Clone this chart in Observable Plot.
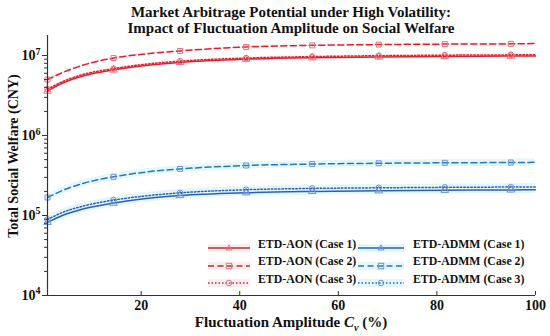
<!DOCTYPE html>
<html><head><meta charset="utf-8">
<script src="https://cdn.jsdelivr.net/npm/d3@7"></script>
<script src="https://cdn.jsdelivr.net/npm/@observablehq/plot@0.6"></script>
<style>
body{margin:0;background:#fff;}
#wrap{position:relative;width:550px;height:336px;font-family:"Liberation Serif","Times New Roman",serif;font-weight:bold;color:#111;overflow:hidden;}
.title{position:absolute;left:0;width:582px;text-align:center;font-size:15px;line-height:16px;}
.xlab{position:absolute;left:0;width:582px;text-align:center;font-size:15px;line-height:15px;top:315px;}
.leg{position:absolute;font-size:11.8px;line-height:14px;white-space:nowrap;}
.sw{position:absolute;}
</style></head><body><div id="wrap"></div>
<script>
// ---- data ----
const cv = [1, 4, 8, 14.4, 21, 27.9, 41.3, 54.7, 68.2, 81.6, 95, 100];
const markerCv = [1, 14.4, 27.9, 41.3, 54.7, 68.2, 81.6, 95];
const aonCase1 = [3.6e6, 4.5e6, 5.5e6, 6.6e6, 7.5e6, 8.2e6, 9.0e6, 9.4e6, 9.6e6, 9.75e6, 9.85e6, 9.9e6];
const aonCase2 = [5.0e6, 6.1e6, 7.5e6, 9.3e6, 1.05e7, 1.14e7, 1.28e7, 1.34e7, 1.37e7, 1.39e7, 1.40e7, 1.41e7];
const aonCase3 = [3.8e6, 4.7e6, 5.75e6, 6.85e6, 7.8e6, 8.5e6, 9.3e6, 9.7e6, 9.95e6, 1.01e7, 1.02e7, 1.025e7];
const admmCase1 = [8.2e4, 1.0e5, 1.2e5, 1.43e5, 1.63e5, 1.78e5, 1.93e5, 2.0e5, 2.04e5, 2.07e5, 2.09e5, 2.1e5];
const admmCase2 = [1.68e5, 2.05e5, 2.5e5, 3.05e5, 3.5e5, 3.82e5, 4.22e5, 4.4e5, 4.5e5, 4.56e5, 4.6e5, 4.62e5];
const admmCase3 = [8.9e4, 1.09e5, 1.3e5, 1.56e5, 1.76e5, 1.92e5, 2.1e5, 2.18e5, 2.22e5, 2.25e5, 2.27e5, 2.28e5];
const seriesNames = ["ETD-AON (Case 1)", "ETD-AON (Case 2)", "ETD-AON (Case 3)", "ETD-ADMM (Case 1)", "ETD-ADMM (Case 2)", "ETD-ADMM (Case 3)"];
const xTicks = [20, 40, 60, 80, 100];
const yTicks = [1e4, 1e5, 1e6, 1e7];

// ---- styles ----
const RED = "#e0202c", RED_M = "#e8707c", BLUE = "#2f5fb0", BLUE2 = "#2a78b0", BLUE_M = "#6f93d2";
const styles = [
  {stroke: RED, mk: RED_M, dash: null, symbol: "triangle", band: "#fdecef", bw: 0.03, leg: "#a03a30"},
  {stroke: RED, mk: RED_M, dash: "6,3.5", symbol: "square", band: "#fdecef", bw: 0.03, leg: "#a03a30"},
  {stroke: RED, mk: RED_M, dash: "1.5,2", symbol: "circle", band: "#fdecef", bw: 0.03, leg: "#a03a30"},
  {stroke: BLUE, mk: BLUE_M, dash: null, symbol: "triangle", band: "#e3f7fa", bw: 0.1, leg: BLUE},
  {stroke: BLUE2, mk: BLUE_M, dash: "6,3.5", symbol: "square", band: "#e3f7fa", bw: 0.1, leg: BLUE2},
  {stroke: BLUE, mk: BLUE_M, dash: "1.5,2", symbol: "circle", band: "#e3f7fa", bw: 0.1, leg: BLUE}
];
const allValues = [aonCase1, aonCase2, aonCase3, admmCase1, admmCase2, admmCase3];

const marks = [];
const order = [3, 5, 4, 0, 2, 1];
order.forEach(i => {
  const st = styles[i];
  const rows = cv.map((x, j) => ({x, y: allValues[i][j]}));
  marks.push(Plot.areaY(rows, {x: "x", y1: d => d.y * (1 - st.bw), y2: d => d.y * (1 + st.bw), fill: st.band, curve: "monotone-x"}));
});
order.forEach(i => {
  const st = styles[i];
  const rows = cv.map((x, j) => ({x, y: allValues[i][j]}));
  const mrows = rows.filter(d => markerCv.includes(d.x));
  marks.push(Plot.line(rows, {x: "x", y: "y", stroke: st.stroke, strokeWidth: 1.5, strokeDasharray: st.dash, curve: "monotone-x"}));
  marks.push(Plot.dot(mrows, {x: "x", y: "y", symbol: () => st.symbol, r: 2.8, stroke: st.mk, strokeWidth: 1, fill: "none"}));
});

const minor = [];
for (let e = 4; e <= 7; e++) for (let k = 2; k <= 9; k++) { const v = k * Math.pow(10, e); if (v < 1.78e7) minor.push(v); }

marks.push(
  Plot.ruleY([1e4], {stroke: "#333", strokeWidth: 1.2}),
  Plot.ruleX([1], {stroke: "#333", strokeWidth: 1.2}),
  Plot.axisY(minor, {anchor: "left", tickSize: 3, tickFormat: () => "", label: null, stroke: "#333"}),
  Plot.axisY(yTicks, {anchor: "left", tickSize: 5, tickPadding: 2, label: null, stroke: "#333", fill: "#111", tickFormat: d => "10^" + Math.round(Math.log10(d))}),
  Plot.axisX(xTicks, {anchor: "bottom", tickSize: 4, dy: -4, tickFormat: () => "", label: null, stroke: "#333"}),
  Plot.axisX(xTicks, {anchor: "bottom", tickSize: 0, tickPadding: 5, label: null, fill: "#111"})
);

const chart = Plot.plot({
  width: 550, height: 336,
  marginTop: 35, marginBottom: 41, marginLeft: 47, marginRight: 15,
  x: {domain: [1, 100]},
  y: {type: "log", domain: [1e4, 1.78e7]},
  style: {fontFamily: '"Liberation Serif","Times New Roman",serif', fontWeight: "bold", fontSize: "14px", background: "white", color: "#111"},
  marks
});
const wrap = document.getElementById("wrap");
chart.style.position = "absolute"; chart.style.left = "0"; chart.style.top = "0";
wrap.appendChild(chart);

d3.select(chart).selectAll('g[aria-label="y-axis tick label"] text').each(function() {
  const t = d3.select(this); const s = t.text();
  if (!s.includes("^")) { t.remove(); return; }
  const exp = s.split("^")[1];
  t.text(""); t.append("tspan").text("10");
  t.append("tspan").attr("dy", "-0.55em").attr("font-size", "10px").text(exp);
});
d3.select(chart).selectAll('g[aria-label="x-axis tick label"] text').each(function() {
  if (d3.select(this).text() === "") d3.select(this).remove();
});
d3.select(chart).append("text").attr("transform", "translate(15,156) rotate(-90)")
  .attr("text-anchor", "middle").attr("dominant-baseline", "middle")
  .attr("font-size", "14px").attr("fill", "#111").text("Total Social Welfare (CNY)");

const t1 = document.createElement("div"); t1.className = "title"; t1.style.top = "4px";
t1.innerHTML = "Market Arbitrage Potential under High Volatility:<br>Impact of Fluctuation Amplitude on Social Welfare";
wrap.appendChild(t1);
const xl = document.createElement("div"); xl.className = "xlab";
xl.innerHTML = 'Fluctuation Amplitude <i>C<sub style="font-size:10px;line-height:0">v</sub></i> (%)';
wrap.appendChild(xl);

const legPos = [[208, 258, 244], [208, 258, 261.5], [208, 258, 279], [358, 413, 244], [358, 413, 261.5], [358, 413, 279]];
seriesNames.forEach((name, i) => {
  const st = styles[i]; const [sx, tx, y] = legPos[i];
  const w = i < 3 ? 42 : 46;
  const sym = st.symbol === "triangle" ? `<path d="M${w/2},${5-3.2} L${w/2+3},${5+2} L${w/2-3},${5+2} Z" fill="none" stroke="${st.mk}"/>`
    : st.symbol === "square" ? `<rect x="${w/2-2.7}" y="2.3" width="5.4" height="5.4" fill="none" stroke="${st.mk}"/>`
    : `<circle cx="${w/2}" cy="5" r="2.8" fill="none" stroke="${st.mk}"/>`;
  const sv = document.createElement("div"); sv.className = "sw";
  sv.style.left = sx + "px"; sv.style.top = (y - 5) + "px";
  sv.innerHTML = `<svg width="${w}" height="10"><rect x="0" y="1" width="${w}" height="8" fill="${st.band}"/><line x1="0" x2="${w}" y1="5" y2="5" stroke="${st.leg}" stroke-width="1.5" ${st.dash ? `stroke-dasharray="${st.dash}"` : ""}/>${sym}</svg>`;
  wrap.appendChild(sv);
  const tx_ = document.createElement("div"); tx_.className = "leg";
  tx_.style.left = tx + "px"; tx_.style.top = (y - 7.5) + "px"; tx_.textContent = name;
  wrap.appendChild(tx_);
});
</script></body></html>
